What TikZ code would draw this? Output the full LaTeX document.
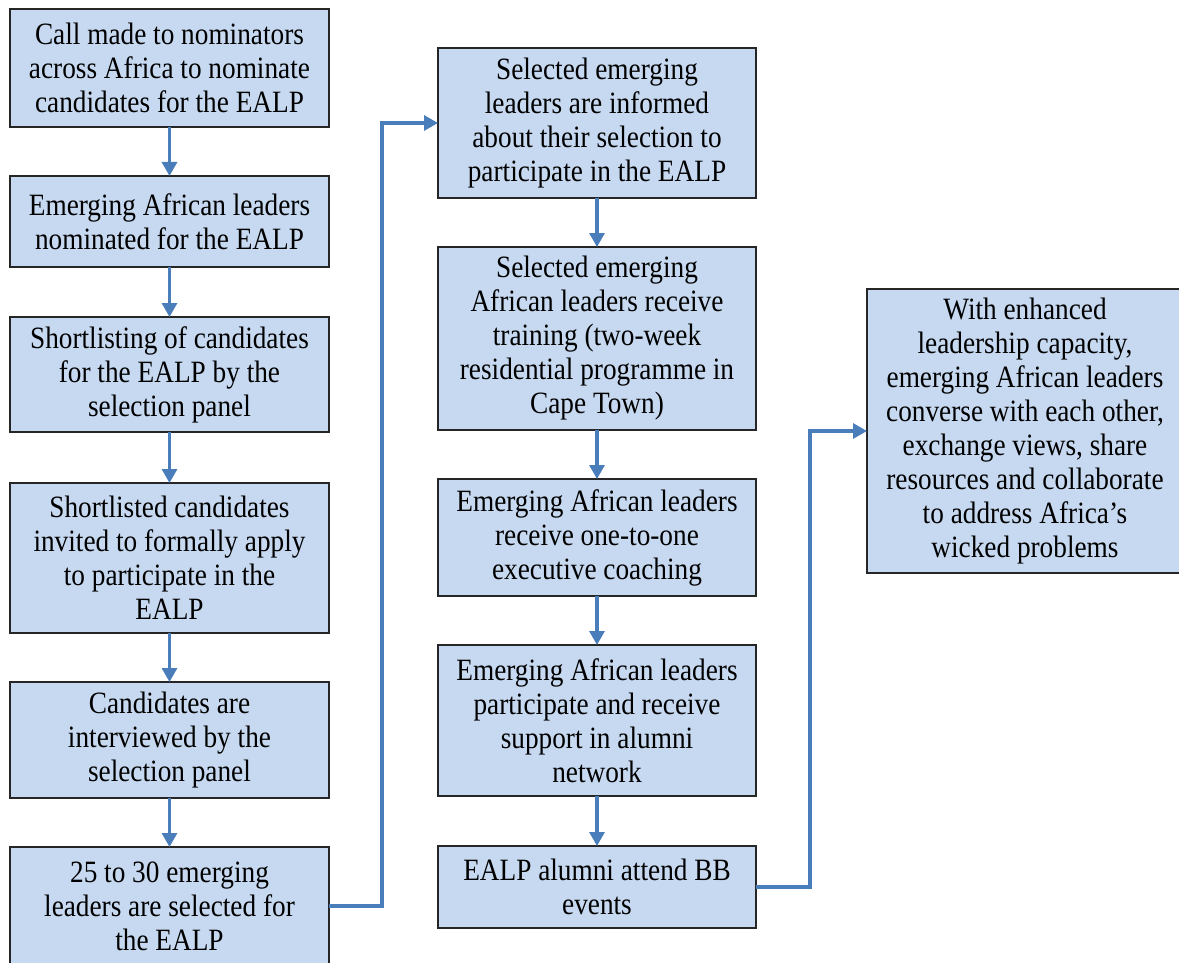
\documentclass[tikz,border=0pt]{standalone}
\usepackage{fontspec}
\setmainfont[FakeStretch=0.88]{Liberation Serif}
\usetikzlibrary{arrows.meta, positioning}
\definecolor{BoxBlue}{HTML}{C6D9F0}
\definecolor{FlowBlue}{HTML}{4A7EBB}

\tikzset{
    stepbox/.style={draw=black!85, line width=0.9pt, fill=BoxBlue, align=center,
        inner sep=0pt, outer sep=0pt, font=\fontsize{15.5}{17}\selectfont},
    flow/.style={draw=FlowBlue, line width=1.6pt, -{Triangle[width=7.5pt, length=7pt]}},
}

\begin{document}
\begin{tikzpicture}[x=0.5pt, y=-0.5pt]
    \useasboundingbox (0,0) rectangle (1179,963);

    % Left column: nomination and selection
    \node[stepbox, minimum width=159.5pt, minimum height=59pt, anchor=north] (call) at (169.5,9)
        {Call made to nominators\\across Africa to nominate\\candidates for the EALP};
    \node[stepbox, minimum width=159.5pt, minimum height=45.5pt, below=24.5pt of call] (nominated)
        {Emerging African leaders\\nominated for the EALP};
    \node[stepbox, minimum width=159.5pt, minimum height=57.5pt, below=25pt of nominated] (shortlist)
        {Shortlisting of candidates\\for the EALP by the\\selection panel};
    \node[stepbox, minimum width=159.5pt, minimum height=75pt, below=25.5pt of shortlist] (apply)
        {Shortlisted candidates\\invited to formally apply\\to participate in the\\EALP};
    \node[stepbox, minimum width=159.5pt, minimum height=58pt, below=24.5pt of apply] (interview)
        {Candidates are\\interviewed by the\\selection panel};
    \node[stepbox, minimum width=159.5pt, minimum height=59pt, below=24.5pt of interview] (select)
        {25 to 30 emerging\\leaders are selected for\\the EALP};

    % Middle column: programme
    \node[stepbox, minimum width=159pt, minimum height=75pt, anchor=north] (inform) at (597,48)
        {Selected emerging\\leaders are informed\\about their selection to\\participate in the EALP};
    \node[stepbox, minimum width=159pt, minimum height=91.5pt, below=24.5pt of inform] (training)
        {Selected emerging\\African leaders receive\\training (two-week\\residential programme in\\Cape Town)};
    \node[stepbox, minimum width=159pt, minimum height=58.5pt, below=24.5pt of training] (coaching)
        {Emerging African leaders\\receive one-to-one\\executive coaching};
    \node[stepbox, minimum width=159pt, minimum height=75.5pt, below=24.5pt of coaching] (network)
        {Emerging African leaders\\participate and receive\\support in alumni\\network};
    \node[stepbox, minimum width=159pt, minimum height=41pt, below=25pt of network] (alumni)
        {EALP alumni attend BB\\events};

    % Right column: outcome
    \node[stepbox, minimum width=158pt, minimum height=142pt, anchor=north] (converse) at (1025,289)
        {With enhanced\\leadership capacity,\\emerging African leaders\\converse with each other,\\exchange views, share\\resources and collaborate\\to address Africa’s\\wicked problems};

    % Arrows
    \foreach \a/\b in {call/nominated, nominated/shortlist, shortlist/apply, apply/interview,
        interview/select, inform/training, training/coaching, coaching/network, network/alumni}
        \draw[flow] (\a) -- (\b);
    \draw[flow] (select.east) -- ++(53,0) |- (inform.west);
    \draw[flow] (alumni.east) -- ++(54,0) |- (converse.west);
\end{tikzpicture}
\end{document}
